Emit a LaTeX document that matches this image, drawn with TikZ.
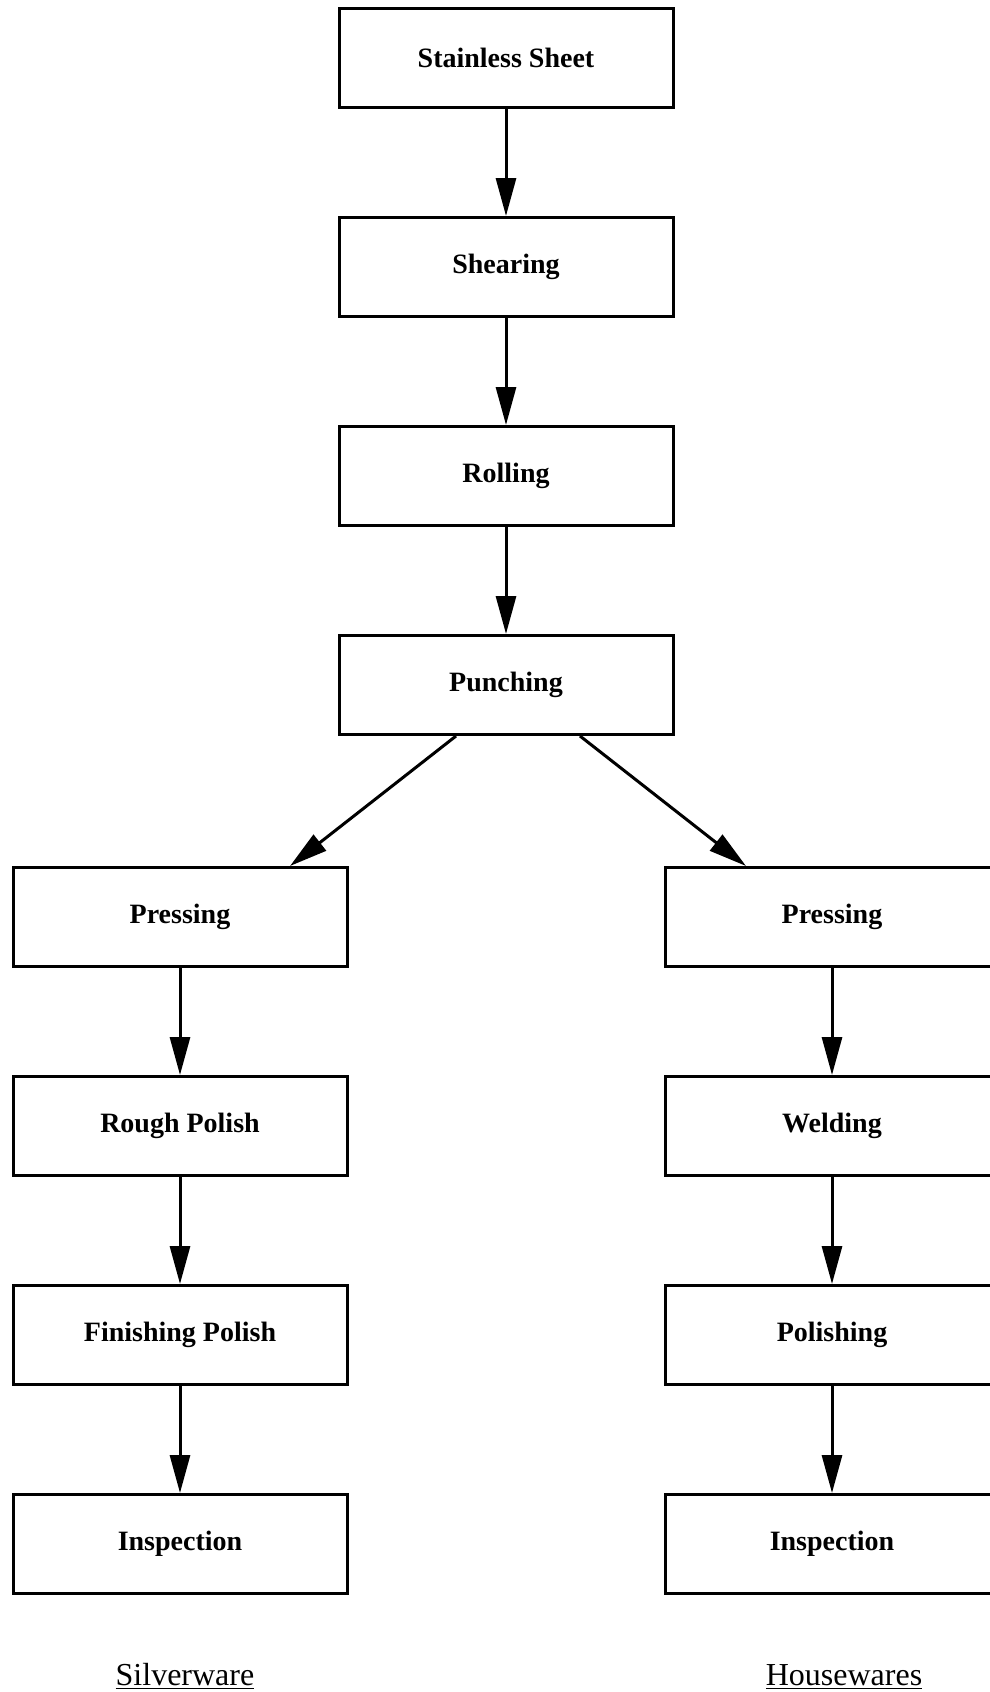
\documentclass[tikz,border=0pt]{standalone}
\usepackage{fontspec}
\setmainfont{Liberation Serif}
\usetikzlibrary{arrows.meta, positioning, calc}

\begin{document}
\begin{tikzpicture}[
    node distance=53.5pt,
    box/.style={rectangle, draw, line width=1.5pt, minimum width=167pt, minimum height=49.5pt, align=center, fill=white, font=\fontsize{14}{16}\selectfont\bfseries},
    tag/.style={font=\fontsize{16}{18}\selectfont, anchor=base},
    arrow/.style={-{Triangle[length=19pt,width=10pt]}, line width=1.5pt}
]
\useasboundingbox (0,0) rectangle (495pt,-846pt);

% Main line
\node[box] (sheet) at (253pt,-29pt) {Stainless Sheet};
\node[box, below=of sheet] (shear) {Shearing};
\node[box, below=of shear] (roll) {Rolling};
\node[box, below=of roll] (punch) {Punching};

\draw[arrow] (sheet) -- (shear);
\draw[arrow] (shear) -- (roll);
\draw[arrow] (roll) -- (punch);

% Silverware
\node[box, below left=65pt and -5.5pt of punch] (lpress) {Pressing};
\node[box, below=of lpress] (rough) {Rough Polish};
\node[box, below=of rough] (finish) {Finishing Polish};
\node[box, below=of finish] (linsp) {Inspection};

\draw[arrow] ([xshift=-25pt]punch.south) -- ([xshift=55pt]lpress.north);
\draw[arrow] (lpress) -- (rough);
\draw[arrow] (rough) -- (finish);
\draw[arrow] (finish) -- (linsp);

% Housewares
\node[box, below right=65pt and -5.5pt of punch] (rpress) {Pressing};
\node[box, below=of rpress] (weld) {Welding};
\node[box, below=of weld] (polish) {Polishing};
\node[box, below=of polish] (rinsp) {Inspection};

\draw[arrow] ([xshift=37pt]punch.south) -- ([xshift=-43pt]rpress.north);
\draw[arrow] (rpress) -- (weld);
\draw[arrow] (weld) -- (polish);
\draw[arrow] (polish) -- (rinsp);

% Labels
\node[tag] (silver) at ($(linsp.south)+(2.5pt,-45pt)$) {\underline{Silverware}};
\node[tag] (house) at ($(rinsp.south)+(6pt,-45pt)$) {\underline{Housewares}};

\end{tikzpicture}
\end{document}
